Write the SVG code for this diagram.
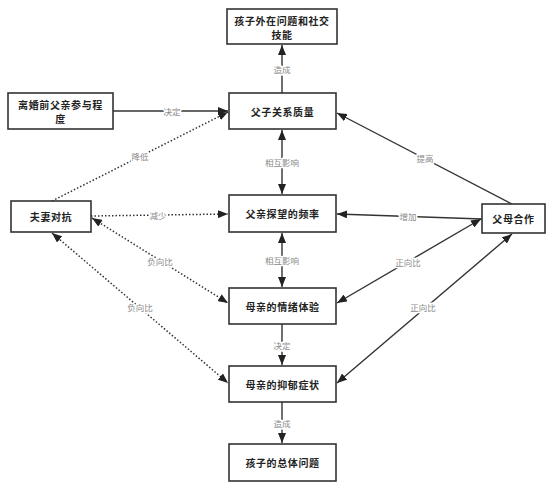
<svg xmlns="http://www.w3.org/2000/svg" width="554" height="489" viewBox="0 0 554 489">
<style>
.box{fill:#fff;stroke:#333;stroke-width:1.6}
.nt{font-family:"Noto Sans CJK SC","Noto Sans",sans-serif;font-size:10px;font-weight:bold;fill:#222;text-anchor:middle;dominant-baseline:central;letter-spacing:0.6px}
.ln{fill:none;stroke:#333;stroke-width:1.4}
.dl{fill:none;stroke:#333;stroke-width:1.5;stroke-dasharray:1.5 2}
.lb{font-family:"Noto Sans CJK SC","Noto Sans",sans-serif;font-size:8.5px;fill:#8a8a8a;text-anchor:middle;dominant-baseline:central;stroke:#fff;stroke-width:3px;paint-order:stroke;stroke-linejoin:round}
</style>
<defs>
<marker id="ah" viewBox="0 0 10 8" refX="10" refY="4" markerWidth="10" markerHeight="8" markerUnits="userSpaceOnUse" orient="auto-start-reverse">
<path d="M0,0 L10,4 L0,8 Z" fill="#222"/>
</marker>
</defs>
<g id="connectors">
<path class="ln" d="M282,93 L282,45" marker-end="url(#ah)"/>
<path class="ln" d="M113,111 L228,111" marker-end="url(#ah)"/>
<path class="dl" d="M52,201 L228,112" marker-end="url(#ah)"/>
<path class="dl" d="M91,216 L228,214" marker-end="url(#ah)"/>
<path class="dl" d="M92,218 L228,303" marker-start="url(#ah)" marker-end="url(#ah)"/>
<path class="dl" d="M52,233 L228,383" marker-start="url(#ah)" marker-end="url(#ah)"/>
<path class="ln" d="M282,130 L282,194" marker-start="url(#ah)" marker-end="url(#ah)"/>
<path class="ln" d="M282,233 L282,287" marker-start="url(#ah)" marker-end="url(#ah)"/>
<path class="ln" d="M282,324 L282,365" marker-end="url(#ah)"/>
<path class="ln" d="M282,402 L282,443" marker-end="url(#ah)"/>
<path class="ln" d="M512,204 L337,113" marker-end="url(#ah)"/>
<path class="ln" d="M482,219 L337,214" marker-end="url(#ah)"/>
<path class="ln" d="M481,219 L337,303" marker-start="url(#ah)" marker-end="url(#ah)"/>
<path class="ln" d="M512,234 L337,383" marker-start="url(#ah)" marker-end="url(#ah)"/>
<text class="lb" x="282" y="69">造成</text>
<text class="lb" x="172" y="111">决定</text>
<text class="lb" x="140" y="156">降低</text>
<text class="lb" x="158" y="215">减少</text>
<text class="lb" x="160" y="261">负向比</text>
<text class="lb" x="140" y="307">负向比</text>
<text class="lb" x="282" y="162">相互影响</text>
<text class="lb" x="282" y="260">相互影响</text>
<text class="lb" x="282" y="345">决定</text>
<text class="lb" x="282" y="423">造成</text>
<text class="lb" x="425" y="158">提高</text>
<text class="lb" x="408" y="216">增加</text>
<text class="lb" x="408" y="262">正向比</text>
<text class="lb" x="423" y="307">正向比</text>
</g>
<g id="n_top"><rect class="box" x="227" y="9" width="110" height="35"/><text class="nt" x="282" y="20">孩子外在问题和社交</text><text class="nt" x="282" y="34.5">技能</text></g>
<g id="n_fz"><rect class="box" x="229" y="93" width="107" height="36"/><text class="nt" x="282.5" y="111">父子关系质量</text></g>
<g id="n_lhq"><rect class="box" x="8" y="93" width="105" height="36"/><text class="nt" x="60.5" y="104">离婚前父亲参与程</text><text class="nt" x="60.5" y="118.5">度</text></g>
<g id="n_pl"><rect class="box" x="229" y="195" width="107" height="37"/><text class="nt" x="282.5" y="213.5">父亲探望的频率</text></g>
<g id="n_fq"><rect class="box" x="11" y="201" width="80" height="31"/><text class="nt" x="51" y="216.5">夫妻对抗</text></g>
<g id="n_fm"><rect class="box" x="482" y="204" width="63" height="29"/><text class="nt" x="513.5" y="218.5">父母合作</text></g>
<g id="n_qx"><rect class="box" x="229" y="288" width="107" height="36"/><text class="nt" x="282.5" y="306">母亲的情绪体验</text></g>
<g id="n_yy"><rect class="box" x="229" y="366" width="107" height="36"/><text class="nt" x="282.5" y="384">母亲的抑郁症状</text></g>
<g id="n_zt"><rect class="box" x="229" y="444" width="107" height="37"/><text class="nt" x="282.5" y="462.5">孩子的总体问题</text></g>
</svg>
